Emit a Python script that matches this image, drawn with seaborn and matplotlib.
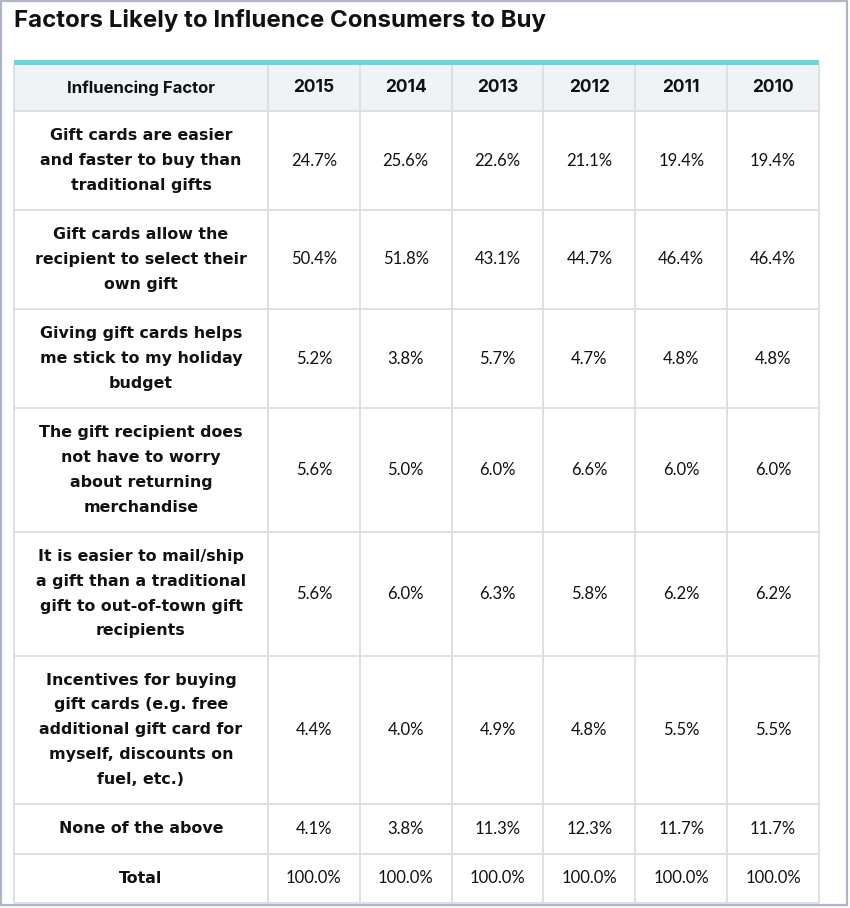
import matplotlib
matplotlib.use("Agg")
import matplotlib.pyplot as plt
from matplotlib.patches import Rectangle
import seaborn as sns

# ─── DATA ─────────────────────────────────────────────────────────────────────

title = "Factors Likely to Influence Consumers to Buy"
header_first = "Influencing Factor"
years = ["2015", "2014", "2013", "2012", "2011", "2010"]

factors = [
    "Gift cards are easier\nand faster to buy than\ntraditional gifts",
    "Gift cards allow the\nrecipient to select their\nown gift",
    "Giving gift cards helps\nme stick to my holiday\nbudget",
    "The gift recipient does\nnot have to worry\nabout returning\nmerchandise",
    "It is easier to mail/ship\na gift than a traditional\ngift to out-of-town gift\nrecipients",
    "Incentives for buying\ngift cards (e.g. free\nadditional gift card for\nmyself, discounts on\nfuel, etc.)",
    "None of the above",
    "Total",
]

pct_2015 = [24.7, 50.4, 5.2, 5.6, 5.6, 4.4, 4.1, 100.0]
pct_2014 = [25.6, 51.8, 3.8, 5.0, 6.0, 4.0, 3.8, 100.0]
pct_2013 = [22.6, 43.1, 5.7, 6.0, 6.3, 4.9, 11.3, 100.0]
pct_2012 = [21.1, 44.7, 4.7, 6.6, 5.8, 4.8, 12.3, 100.0]
pct_2011 = [19.4, 46.4, 4.8, 6.0, 6.2, 5.5, 11.7, 100.0]
pct_2010 = [19.4, 46.4, 4.8, 6.0, 6.2, 5.5, 11.7, 100.0]

columns = [pct_2015, pct_2014, pct_2013, pct_2012, pct_2011, pct_2010]

# ─── STYLE ────────────────────────────────────────────────────────────────────

sns.set_theme(style="white")
plt.rcParams['font.family'] = ['Inter', 'DejaVu Sans']

TEAL = '#66d6d6'
HEAD_BG = '#f0f3f6'
GRID = '#d9dee3'
BORDER = '#aeb6c6'
INK = '#111111'

W, H = 850, 908
left, right = 14, 819
first_w = 254
teal_top, teal_h = 60, 5
header_h = 46
line_h = 24.75

fig = plt.figure(figsize=(W / 100, H / 100), dpi=100)
ax = fig.add_axes([0, 0, 1, 1])
ax.set_xlim(0, W)
ax.set_ylim(H, 0)
ax.axis('off')

# outer frame
ax.add_patch(Rectangle((1.5, 1), W - 4, H - 4, fill=False, ec=BORDER, lw=1.6))

ax.text(left, 21, title, fontsize=17.3, fontweight='bold', color=INK, va='center', ha='left')

# column edges
val_w = (right - left - first_w) / len(years)
col_edges = [left, left + first_w] + [left + first_w + val_w * (i + 1) for i in range(len(years))]

# row edges derived from number of lines in each label
head_top = teal_top + teal_h
row_edges = [head_top, head_top + header_h]
for lab in factors:
    n = lab.count('\n') + 1
    row_edges.append(row_edges[-1] + line_h * (n + 1))

# header band + teal strip
ax.add_patch(Rectangle((left, head_top), right - left, header_h, fc=HEAD_BG, ec='none'))
ax.add_patch(Rectangle((left, teal_top), right - left, teal_h, fc=TEAL, ec='none'))

# grid lines
for y in row_edges[1:]:
    ax.plot([left, right], [y, y], color=GRID, lw=1.3, solid_capstyle='butt')
for x in col_edges:
    ax.plot([x, x], [head_top, row_edges[-1]], color=GRID, lw=1.3, solid_capstyle='butt')

# header text
hy = head_top + header_h / 2
ax.text((col_edges[0] + col_edges[1]) / 2, hy, header_first, fontsize=12,
        fontweight='bold', color=INK, ha='center', va='center')
for i, yr in enumerate(years):
    ax.text((col_edges[i + 1] + col_edges[i + 2]) / 2, hy, yr, fontsize=12.5,
            fontweight='bold', color=INK, ha='center', va='center')

# body
for r, lab in enumerate(factors):
    top, bot = row_edges[r + 1], row_edges[r + 2]
    cy = (top + bot) / 2
    lines = lab.split('\n')
    n = len(lines)
    for k, ln in enumerate(lines):
        ly = cy + (k - (n - 1) / 2) * line_h
        ax.text((col_edges[0] + col_edges[1]) / 2, ly, ln, fontsize=11.4,
                fontweight='bold', family=['DejaVu Sans'], color=INK,
                ha='center', va='center')
    for c, vals in enumerate(columns):
        ax.text((col_edges[c + 1] + col_edges[c + 2]) / 2, cy, f"{vals[r]:.1f}%",
                fontsize=12, fontweight='normal', family=['Lato', 'DejaVu Sans'],
                color=INK, ha='center', va='center')

fig.savefig('out.png', dpi=100)
